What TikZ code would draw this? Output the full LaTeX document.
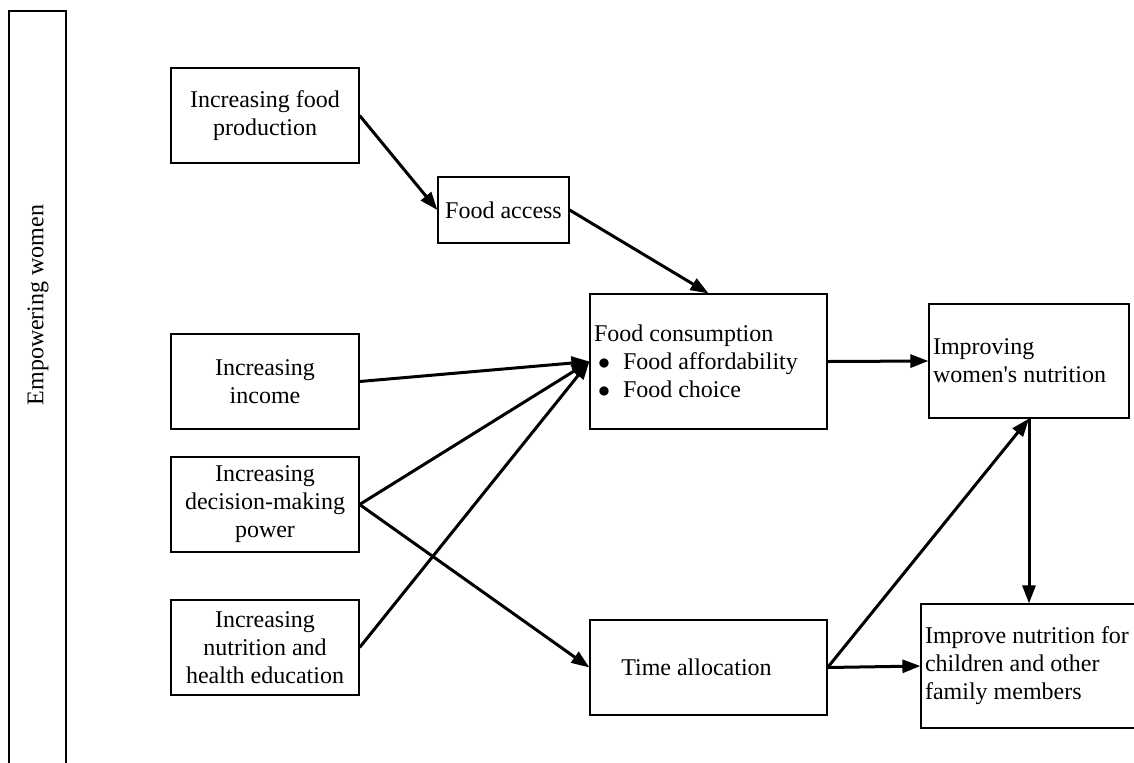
\documentclass[tikz,border=0pt]{standalone}
\usepackage{fontspec}
\setmainfont{Liberation Serif}
\usepackage{tikz}
\usetikzlibrary{arrows.meta}
\tikzset{every picture/.style={x=0.5pt, y=-0.5pt}}
\tikzset{box/.style={draw, line width=0.6pt, rectangle, inner sep=2pt,
    font=\fontsize{12}{14}\selectfont, align=center}}
\tikzset{flow/.style={line width=1.5pt, -{Triangle[length=9pt,width=6.5pt]}}}
\newcommand{\blt}{\hspace*{2pt}$\bullet$\hspace{6.5pt}}

\begin{document}
\begin{tikzpicture}
\useasboundingbox (0,0) rectangle (1134,762);
% side frame
\draw[line width=0.6pt] (9,770) -- (9,11) -- (66,11) -- (66,770);
\node[rotate=90, font=\fontsize{12}{14}\selectfont] (empower) at (38,305) {Empowering women};

\node[box, minimum width=94pt, minimum height=47.5pt] (prod) at (265,115.5) {Increasing food\\production};
\node[box, minimum width=65.5pt, minimum height=33pt] (access) at (503.5,210) {Food access};
\node[box, minimum width=94pt, minimum height=47.5pt] (income) at (265,381.5) {Increasing\\income};
\node[box, minimum width=94pt, minimum height=47.5pt] (decision) at (265,504.5) {Increasing\\decision-making\\power};
\node[box, minimum width=94pt, minimum height=47.5pt] (educ) at (265,647.5) {Increasing\\nutrition and\\health education};
\node[box, minimum width=118.5pt, minimum height=67.5pt, align=flush left, text width=114.5pt] (consum) at (708.5,361.5)
  {Food consumption\\\blt Food affordability\\\blt Food choice};
\node[box, minimum width=118.5pt, minimum height=47.5pt] (time) at (708.5,667.5) {Time allocation\hspace*{12pt}};
\node[box, minimum width=100pt, minimum height=57pt, align=flush left, text width=96pt] (women) at (1029,361)
  {Improving\\women\textquotesingle s nutrition};
\node[box, minimum width=112pt, minimum height=62pt, align=flush left, text width=108pt] (family) at (1033,666)
  {Improve nutrition for\\children and other\\family members};

\draw[flow] (prod.east) -- (access.west);
\draw[flow] (access.east) -- (consum.north);
\draw[flow] (income.east) -- (consum.west);
\draw[flow] (decision.east) -- (consum.west);
\draw[flow] (educ.east) -- (consum.west);
\draw[flow] (decision.east) -- (time.west);
\draw[flow] (consum.east) -- (women.west);
\draw[flow] (time.east) -- (women.south);
\draw[flow] (time.east) -- (family.west);
\draw[flow] (women.south) -- (women.south |- family.north);
\end{tikzpicture}
\end{document}
